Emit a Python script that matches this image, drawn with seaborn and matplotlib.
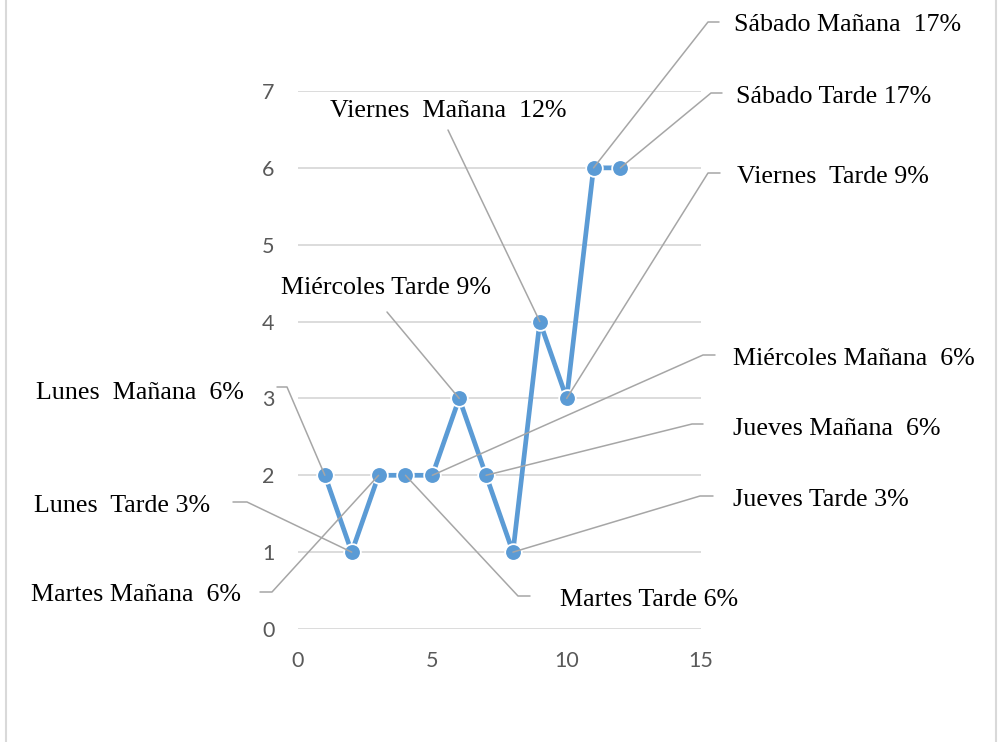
import matplotlib
matplotlib.use("Agg")
import matplotlib.pyplot as plt
from matplotlib.lines import Line2D
import seaborn as sns
import pandas as pd

# ---- data ----
x_vals = [1, 2, 3, 4, 5, 6, 7, 8, 9, 10, 11, 12]
y_vals = [2, 1, 2, 2, 2, 3, 2, 1, 4, 3, 6, 6]
labels = ["Lunes  Mañana  6%", "Lunes  Tarde 3%", "Martes Mañana  6%", "Martes Tarde 6%",
          "Miércoles Mañana  6%", "Miércoles Tarde 9%", "Jueves Mañana  6%", "Jueves Tarde 3%",
          "Viernes  Mañana  12%", "Viernes  Tarde 9%", "Sábado Mañana  17%", "Sábado Tarde 17%"]
x_ticks = [0, 5, 10, 15]
y_ticks = [0, 1, 2, 3, 4, 5, 6, 7]

# ---- layout of labels (figure pixels, top-left origin) ----
# (text_x, baseline_y, ha, leader path points)
label_layout = [
    (244, 399, "right", [(287, 387), (277, 387)]),
    (210, 512, "right", [(247, 502), (233, 502)]),
    (241, 601, "right", [(272, 592), (260, 592)]),
    (560, 606, "left", [(518, 596), (530, 596)]),
    (733, 365, "left", [(703, 355), (715, 355)]),
    (386, 294, "center", [(387, 312)]),
    (733, 435, "left", [(692, 424), (703, 424)]),
    (733, 506, "left", [(700, 496), (713, 496)]),
    (448, 117, "center", [(448, 130)]),
    (737, 183, "left", [(708, 173), (720, 173)]),
    (734, 31, "left", [(708, 22), (719, 22)]),
    (736, 103, "left", [(711, 93), (722, 93)]),
]

W, H = 998, 742
sns.set_theme(style="white")
fig = plt.figure(figsize=(W / 100, H / 100), dpi=100)
ax = fig.add_axes([298 / W, (H - 629) / H, (701 - 298) / W, (629 - 91) / H])

df = pd.DataFrame({"x": x_vals, "y": y_vals})
sns.lineplot(data=df, x="x", y="y", ax=ax, color="#5B9BD5", linewidth=3.4,
             marker="o", markersize=12, markeredgecolor="white",
             markeredgewidth=1.3, zorder=5)

ax.set_xlim(0, 15)
ax.set_ylim(0, 7)
ax.set_xticks(x_ticks)
ax.set_yticks(y_ticks)
ax.set_xlabel("")
ax.set_ylabel("")
for s in ax.spines.values():
    s.set_visible(False)
ax.grid(axis="y", color="#D9D9D9", linewidth=1.3)
ax.grid(axis="x", visible=False)
ax.tick_params(axis="both", length=0, labelsize=15.5, labelcolor="#595959")
ax.tick_params(axis="x", pad=16)
ax.tick_params(axis="y", pad=17)
for t in ax.get_xticklabels() + ax.get_yticklabels():
    t.set_fontfamily("Lato")

# leader lines and labels
fig.canvas.draw()
for (xv, yv, lab, (tx, ty, ha, path)) in zip(x_vals, y_vals, labels, label_layout):
    px, py = ax.transData.transform((xv, yv))
    xs = [px] + [p[0] for p in path]
    ys = [py] + [H - p[1] for p in path]
    fig.add_artist(Line2D(xs, ys, transform=None, color="#A6A6A6", linewidth=1.1, zorder=3))
    fig.text(tx / W, (H - ty) / H, lab, ha=ha, va="baseline",
             fontsize=18.7, family="Liberation Serif", color="black")

# outer border
fig.add_artist(Line2D([6 / W, 6 / W], [0, 1], transform=fig.transFigure, color="#D9D9D9", linewidth=1.5))
fig.add_artist(Line2D([996 / W, 996 / W], [0, 1], transform=fig.transFigure, color="#D9D9D9", linewidth=1.5))

fig.savefig("out.png", dpi=100)
